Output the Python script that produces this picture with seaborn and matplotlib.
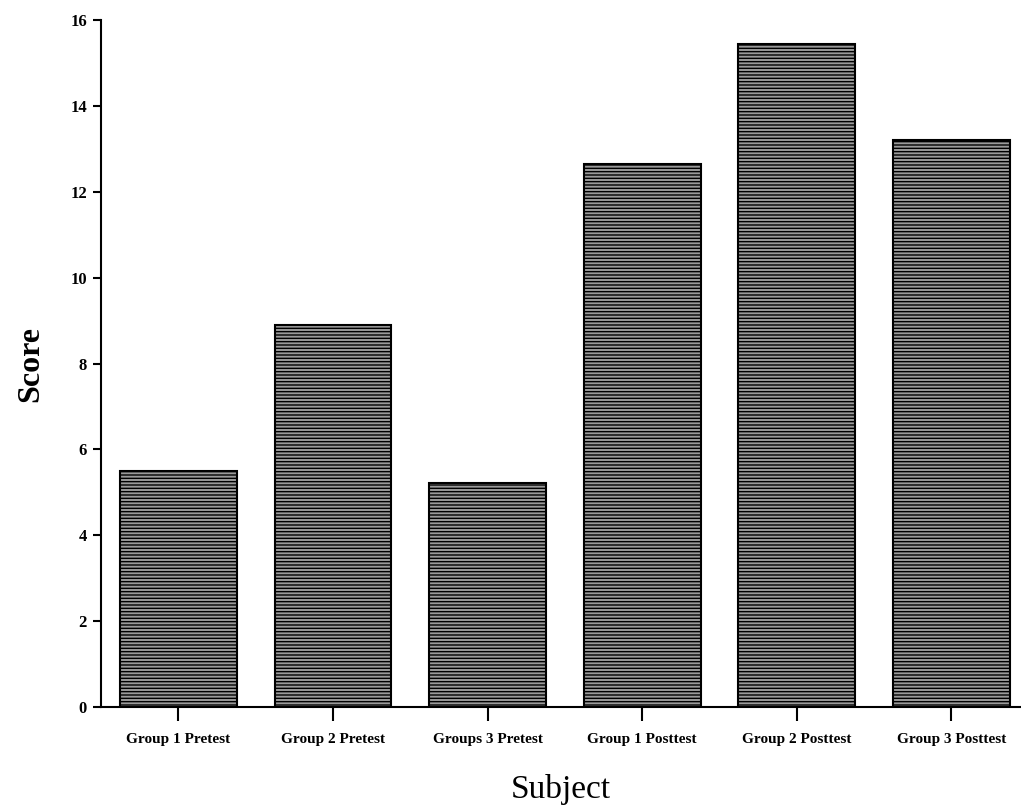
import seaborn as sns
import matplotlib.pyplot as plt
import pandas as pd

# Podaci
subjects = ["Group 1 Pretest", "Group 2 Pretest", "Groups 3 Pretest",
            "Group 1 Posttest", "Group 2 Posttest", "Group 3 Posttest"]
scores = [5.5, 8.9, 5.22, 12.65, 15.44, 13.2]

df = pd.DataFrame({"Subject": subjects, "Score": scores})

sns.set_style("ticks")
plt.rcParams["font.family"] = ["Liberation Serif", "DejaVu Serif"]
plt.rcParams["hatch.linewidth"] = 1.0
plt.rcParams["text.color"] = "black"
plt.rcParams["axes.labelcolor"] = "black"
plt.rcParams["xtick.color"] = "black"
plt.rcParams["ytick.color"] = "black"
plt.rcParams["axes.edgecolor"] = "black"

fig = plt.figure(figsize=(10.21, 8.07), dpi=100)
ax = fig.add_axes([0.0989, 0.1239, 0.9011, 0.8513])

sns.barplot(data=df, x="Subject", y="Score", ax=ax, color="#9a9a9a",
            width=0.755, edgecolor="black", linewidth=1.5, saturation=1)
for bar in ax.patches:
    bar.set_hatch("-----")

ax.set_ylim(0, 16)
ax.set_xlim(-0.5, 5.45)
ax.set_yticks(range(0, 17, 2))
ax.spines["top"].set_visible(False)
ax.spines["right"].set_visible(False)
ax.spines["left"].set_linewidth(1.5)
ax.spines["bottom"].set_linewidth(1.5)
ax.tick_params(axis="y", length=6, width=1.5, labelsize=12, pad=4)
ax.tick_params(axis="x", length=10, width=1.5, labelsize=11, pad=9)
for lab in ax.get_yticklabels():
    lab.set_fontweight("bold")
for lab in ax.get_xticklabels():
    lab.set_fontweight("bold")

ax.set_xlabel("Subject", fontsize=24, labelpad=20)
ax.set_ylabel("Score", fontsize=23, fontweight="bold", labelpad=18)

plt.savefig("out.png", dpi=100)
